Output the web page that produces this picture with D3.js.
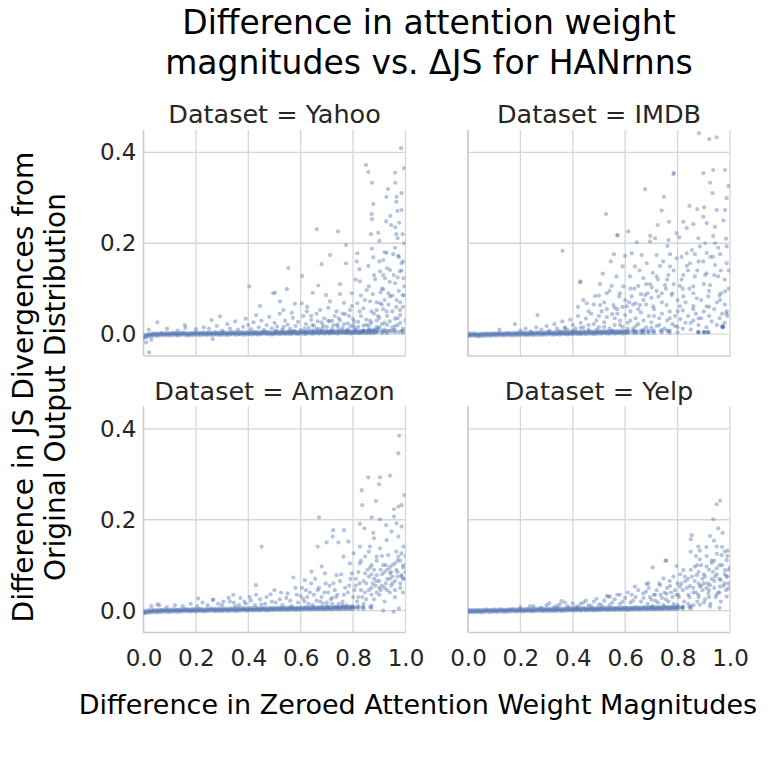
<!DOCTYPE html>
<html><head><meta charset="utf-8">
<script src="https://cdn.jsdelivr.net/npm/d3@7"></script>
<style>body{margin:0;background:#fff} svg text{font-family:"DejaVu Sans",sans-serif}</style>
</head><body>
<svg id="c" width="777" height="761"></svg>
<script>
const datasets = ["Yahoo","IMDB","Amazon","Yelp"];
const xTickValues = [0,0.2,0.4,0.6,0.8,1.0];
const yTickValues = [0,0.2,0.4];
const titleLines = ["Difference in attention weight","magnitudes vs. \u0394JS for HANrnns"];
const yLabelLines = ["Difference in JS Divergences from","Original Output Distribution"];
const xLabel = "Difference in Zeroed Attention Weight Magnitudes";

// x positions of the dense band near zero (read along the band)
const bandX = [0,.01,.02,.03,.04,.05,.06,.07,.08,.09,.1,.11,.12,.13,.14,.15,.16,.17,.18,.19,.2,.21,.22,.23,.24,.25,.26,.27,.28,.29,.3,.31,.32,.33,.34,.35,.36,.37,.38,.39,.4,.41,.42,.43,.44,.45,.46,.47,.48,.49,.5,.51,.52,.53,.54,.55,.56,.57,.58,.59,.6,.61,.62,.63,.64,.65,.66,.67,.68,.69,.7,.71,.72,.73,.74,.75,.76,.77,.78,.79,.8,.81,.82,.83,.84,.85,.86,.87,.88,.89,.9,.91,.92,.93,.94,.95,.96,.97,.98,.99,1];
const bandX2 = [.005,.015,.025,.035,.045,.055,.065,.075,.085,.095,.105,.115,.125,.135,.145,.155,.165,.175,.185,.195,.205,.215,.225,.235,.245,.255,.265,.275,.285,.295,.305,.315,.325,.335,.345,.355,.365,.375,.385,.395,.405,.415,.425,.435,.445,.455,.465,.475,.485,.495,.505,.515,.525,.535,.545,.555,.565,.575,.585,.595,.605,.615,.625,.635,.645,.655,.665,.675,.685,.695,.705,.715,.725,.735,.745,.755,.765,.775,.785,.795,.805,.815,.825,.835,.845,.855,.865,.875,.885,.895,.905,.915,.925,.935,.945,.955,.965,.975,.985,.995];

const yahooBandLo = [-.009,-.006,-.005,-.004,-.003,-.004,-.003,-.002,-.003,-.002,
-.003,-.002,-.002,-.003,-.002,-.001,-.002,-.003,-.002,-.002,
-.001,-.002,-.002,-.001,-.002,-.001,-.002,-.001,-.001,-.002,
-.001,-.001,-.002,-.001,0,-.001,-.001,0,-.001,-.001,
0,-.001,0,0,-.001,0,.001,0,0,-.001,
0,.001,0,.001,0,.001,0,.001,.001,0,
.001,.001,0,.002,.001,.001,.002,.001,.002,.001,
.002,.001,.002,.002,.001,.002,.003,.002,.002,.001,
.002,.003,.002,.002,.003,.002,.003,.002,.003,.004,
null,.003,null,.002,null,null,.004,null,null,.003,null];
const yahooBandHi = [-.003,-.001,0,.001,.002,.001,.002,.003,.002,.003,
.002,.003,.003,.002,.003,.004,.003,.002,.003,.003,
.004,.003,.003,.004,.003,.004,.003,.004,.004,.003,
.004,.004,.003,.004,.005,.004,.004,.005,.004,.004,
.005,.004,.005,.005,.004,.005,.006,.005,.005,.004,
.005,.006,.005,.006,.005,.006,.005,.006,.006,.005,
.006,.006,.005,.007,.006,.006,.007,.006,.007,.006,
.007,.006,.007,.007,.006,.007,.008,.007,.007,.006,
.007,.008,.007,.007,.008,.007,.008,.007,.008,.009,
null,.008,null,.007,null,null,.009,null,null,.008,null];
const yahooBandMid = [-.006,-.003,-.002,-.001,0,-.001,0,0,0,0,
0,.001,0,0,.001,.001,0,0,.001,.001,
.001,.001,.001,.001,.001,.001,.001,.002,.001,.001,
.002,.001,.001,.002,.002,.002,.001,.002,.002,.002,
.002,.002,.003,.002,.002,.003,.003,.003,.002,.002,
.003,.003,.003,.003,.003,.003,.003,.004,.003,.003,
.004,.003,.004,.004,.003,.004,.004,.004,.004,.004,
.004,.004,.005,.004,.004,.005,.005,.004,.005,.004,
.005,.005,.004,.005,.006,.005,.005,.006,.005,.006,
null,.005,null,null,.006,null,null,.005,null,null];
const yahooPoints = [[.983,.409],[.849,.372],[.858,.357],[.96,.355],[.994,.365],[.872,.333],[.961,.333],[.933,.319],[.927,.302],[.966,.302],[.965,.291],[.877,.286],[.969,.271],[.985,.273],[.871,.264],[.872,.253],[.942,.26],[.926,.248],[.976,.245],[.961,.235],[.661,.231],[.742,.226],[.868,.22],[.896,.223],[.989,.22],[.9,.205],[.773,.196],[.97,.211],[.816,.178],[.872,.188],[.928,.179],[.953,.176],[.972,.172],[.712,.174],[.877,.169],[.68,.154],[.773,.156],[.814,.16],[.858,.15],[.915,.163],[.985,.156],[.553,.146],[.606,.128],[.824,.143],[.903,.138],[.941,.141],[.979,.138],[.826,.116],[.75,.11],[.884,.121],[.922,.123],[.96,.112],[.992,.123],[.667,.107],[.502,.091],[.547,.099],[.646,.091],[.697,.086],[.75,.088],[.795,.09],[.852,.097],[.915,.099],[.989,.086],[.941,.083],[.521,.072],[.578,.067],[.604,.068],[.712,.072],[.765,.069],[.816,.068],[.865,.072],[.903,.068],[.966,.075],[.534,.053],[.566,.047],[.623,.05],[.674,.053],[.737,.05],[.788,.053],[.839,.057],[.89,.053],[.928,.05],[.979,.053],
[.404,.105],[.495,.09],[.445,.062],[.292,.039],[.26,.031],[.053,.026],[.158,.02],[.021,-.04],[.264,-.011],[.01,-.018],[.03,-.012],[.02,.01],[.09,.012],[.13,.008],[.16,.014],[.2,.011],[.23,.015],
[.25,.012],[.28,.018],[.3,.008],[.32,.022],[.33,.012],[.35,.028],[.36,.01],[.38,.016],[.39,.034],[.4,.02],[.41,.011],[.42,.026],[.43,.042],[.44,.015],[.45,.03],[.46,.009],[.47,.02],[.48,.038],[.49,.013],[.5,.025],[.51,.017],[.52,.045],[.53,.01],[.54,.03],[.55,.021],[.56,.012],[.57,.036],[.58,.018],[.59,.027],[.6,.009],[.61,.04],[.62,.022],[.63,.014],[.64,.031],[.65,.019],[.66,.045],[.67,.011],[.68,.026],[.69,.035],[.7,.016],[.71,.028],[.72,.012],[.73,.04],[.74,.021],[.75,.03],[.76,.014],[.77,.044],[.78,.024],[.79,.017],[.8,.033],[.81,.01],[.82,.027],[.83,.04],[.84,.019],[.85,.032],[.86,.012],[.87,.025],[.88,.045],[.89,.016],[.9,.036],[.91,.022],[.92,.01],[.93,.04],[.94,.028],[.95,.015],[.96,.034],[.97,.02],[.98,.042],[.99,.012],[1,.03],
[.505,.008],[.535,.016],[.575,.007],[.615,.012],[.645,.008],[.685,.014],[.715,.006],[.745,.011],[.775,.008],[.805,.015],[.835,.006],[.865,.009],[.895,.012],[.925,.006],[.955,.009],[.985,.007],[.625,.06],[.705,.058],[.795,.062],[.845,.075],[.935,.065],[.975,.095],[.905,.092],[.955,.13],[.995,.105],
[.81,.12],[.83,.085],[.86,.105],[.88,.13],[.89,.07],[.9,.16],[.91,.1],[.92,.075],[.93,.145],[.94,.115],[.95,.085],[.96,.19],[.97,.125],[.98,.07],[.99,.16],[.995,.2],[.945,.24],[.985,.31],[.965,.06],[.915,.055],[.875,.088],[.985,.14],[.92,.18],
[.85,.02],[.87,.05],[.89,.03],[.91,.065],[.93,.02],[.95,.05],[.97,.035],[.99,.06],[.995,.085],[.975,.17],[.965,.22],[.935,.09],[.915,.13],[.895,.04],[.865,.03],[.825,.05],[.805,.028],[.785,.04],[.765,.022],[.745,.035],[.725,.02],[.705,.03],[.685,.02],[.665,.028],[.645,.02],
[.62,.005],[.66,.012],[.7,.006],[.74,.018],[.78,.01],[.82,.016],[.84,.008],[.86,.02],[.88,.01],[.9,.015],[.92,.025],[.94,.008],[.96,.018],[.98,.025],[.72,.03],[.76,.045],[.8,.02],[.64,.04],[.68,.008],[.56,.006]];

const imdbBandLo = [-.004,-.004,-.003,-.004,-.005,-.004,-.004,-.003,-.004,-.003,
-.003,-.003,-.002,-.003,-.003,-.002,-.002,-.003,-.002,-.002,
-.002,-.001,-.002,-.002,-.001,-.002,-.001,-.001,-.002,-.001,
-.001,0,-.001,-.001,0,-.001,0,0,-.001,0,
0,.001,0,0,.001,0,.001,.001,0,.001,
.001,.001,.002,.001,.001,.002,.001,.002,.002,.001,
.002,.002,null,.003,.002,null,.003,.002,null,.003,
null,.003,null,null,.004,null,null,.003,null,null,
.004,null,null,null,null,null,null,null,null,null,
null,null,null,null,null,null,null,null,null,null,null];
const imdbBandHi = [.001,.001,.002,.001,0,.001,.001,.002,.001,.002,
.002,.002,.003,.002,.002,.003,.003,.002,.003,.003,
.003,.004,.003,.003,.004,.003,.004,.004,.003,.004,
.004,.005,.004,.004,.005,.004,.005,.005,.004,.005,
.005,.006,.005,.005,.006,.005,.006,.006,.005,.006,
.006,.006,.007,.006,.006,.007,.006,.007,.007,.006,
.007,.007,null,.008,.007,null,.008,.007,null,.008,
null,.008,null,null,.009,null,null,.008,null,null,
null,null,null,null,null,null,null,null,null,null,
null,null,null,null,null,null,null,null,null,null,null];
const imdbBandMid = [-.002,-.001,-.001,-.002,-.001,-.001,-.001,0,-.001,0,
0,0,0,0,.001,0,0,.001,0,.001,
.001,.001,0,.001,.001,.001,.002,.001,.001,.002,
.002,.002,.002,.001,.002,.002,.003,.002,.002,.003,
.003,.003,.003,.003,.004,.003,.004,.004,.003,.004,
.004,.004,.005,.004,.004,.005,.004,.005,.005,.005,
.005,.005,null,.006,.005,null,.006,null,.006,null,
.006,null,null,.007,null,null,.006,null,null,null,
null,null,null,null,null,null,null,null,null,null,
null,null,null,null,null,null,null,null,null,null];
const imdbPoints = [[.882,.442],[.921,.429],[.949,.433],[.786,.355],[.898,.354],[.936,.361],[.981,.361],[.924,.333],[.994,.326],[.676,.319],[.933,.31],[.748,.302],[.987,.299],[.845,.282],[.875,.275],[.901,.279],[.739,.272],[.527,.264],[.949,.273],[.981,.273],[.898,.258],[.767,.247],[.822,.247],[.86,.242],[.724,.24],[.911,.244],[.943,.236],[.835,.233],[.612,.226],[.796,.222],[.57,.218],[.695,.216],[.936,.216],[.714,.211],[.765,.207],[.807,.213],[.879,.211],[.644,.202],[.943,.2],[.987,.193],[.695,.204],[.761,.194],[.885,.193],[.625,.178],[.557,.176],[.599,.172],[.663,.174],[.72,.174],[.771,.176],[.835,.178],[.866,.176],[.911,.179],[.962,.176],[.545,.16],[.59,.149],[.637,.149],[.682,.156],[.733,.15],[.771,.149],[.796,.167],[.847,.156],[.898,.16],[.943,.152],[.987,.156],[.514,.133],[.567,.127],[.618,.127],[.669,.123],[.72,.127],[.765,.13],[.822,.13],[.866,.127],[.911,.134],[.955,.127],[.43,.116],[.504,.11],[.548,.106],[.593,.105],[.65,.106],[.701,.103],[.752,.108],[.809,.106],[.86,.105],[.924,.108],[.981,.094],[.485,.084],[.529,.09],[.577,.083],[.625,.083],[.676,.086],[.727,.083],[.777,.086],[.822,.083],[.873,.079],[.917,.083],[.962,.075],[.453,.068],[.504,.064],[.555,.064],[.606,.061],[.656,.064],[.707,.061],[.758,.064],[.809,.061],[.86,.062],[.911,.061],[.987,.05],[.987,.045],
[.879,.004],[.881,.004],[.878,.005],[.901,.004],[.903,.004],[.9,.005],[.916,.004],[.918,.004],[.915,.005],[.97,.016],[.972,.018],[.974,.016],[.972,.015],[.973,.017],
[.361,.183],[.427,.114],[.265,.042],[.179,.022],[.12,.01],[.571,.217],[.784,.352],
[.2,.008],[.22,.012],[.24,.006],[.26,.015],[.28,.01],[.3,.018],[.31,.008],[.33,.022],[.34,.012],[.36,.028],[.37,.015],[.38,.009],[.39,.032],[.4,.02],[.41,.012],[.42,.04],[.43,.025],[.44,.015],[.45,.034],[.46,.01],[.47,.045],[.48,.022],[.49,.03],[.5,.015],[.51,.05],[.52,.026],[.53,.038],[.54,.012],[.55,.044],[.56,.02],[.57,.055],[.58,.03],[.59,.016],[.6,.042],[.61,.025],[.62,.05],[.63,.012],[.64,.035],[.65,.022],[.66,.048],[.67,.03],[.68,.015],[.69,.04],[.7,.026],[.71,.055],[.72,.018],[.73,.035],[.74,.045],[.75,.012],[.76,.03],[.77,.05],[.78,.022],[.79,.04],[.8,.016],[.81,.033],[.82,.052],[.83,.025],[.84,.04],[.85,.01],[.86,.03],[.87,.045],[.88,.02],[.89,.035],[.9,.05],[.91,.015],[.92,.04],[.93,.028],[.94,.055],[.95,.02],[.96,.035],[.97,.045],[.98,.025],[.99,.04],
[.42,.06],[.44,.075],[.46,.05],[.48,.065],[.5,.085],[.52,.07],[.54,.095],[.56,.058],[.58,.09],[.6,.075],[.62,.1],[.64,.068],[.66,.088],[.68,.11],[.7,.08],[.72,.095],[.74,.07],[.76,.12],[.78,.09],[.8,.075],[.82,.1],[.84,.14],[.86,.09],[.88,.16],[.9,.11],[.92,.095],[.94,.13],[.96,.085],[.98,.12],[.995,.14],[.985,.21],[.975,.25],[.965,.09],[.955,.19],[.925,.17],[.905,.2],[.855,.185],[.835,.15],[.815,.17],[.785,.14],[.745,.16],[.705,.135],[.685,.09],[.655,.14],[.635,.1],[.615,.07],
[.5,.04],[.53,.055],[.56,.035],[.59,.06],[.62,.03],[.65,.055],[.68,.065],[.71,.04],[.74,.09],[.77,.035],[.8,.05],[.83,.07],[.86,.055],[.89,.075],[.92,.06],[.95,.07],[.98,.065],[.995,.1],[.965,.14],[.935,.17],[.905,.13],[.875,.14],[.845,.1],[.815,.12],[.785,.11],[.755,.1],[.725,.12],[.695,.11],
[.35,.006],[.37,.012],[.4,.008],[.43,.014],[.46,.02],[.49,.01],[.52,.016],[.55,.008],[.58,.02],[.61,.012],[.64,.018],[.67,.01],[.7,.014],[.73,.02],[.76,.008],[.79,.018],[.82,.012],[.85,.025],[.88,.035],[.63,.065],[.67,.075],[.57,.045]];

const amazonBandLo = [-.006,-.005,-.004,-.004,-.003,-.004,-.003,-.003,-.002,-.003,
-.003,-.002,-.002,-.003,-.002,-.002,-.001,-.002,-.002,-.001,
-.002,-.001,-.001,-.002,-.001,-.001,0,-.001,-.001,0,
-.001,0,-.001,0,0,-.001,0,0,.001,0,
0,.001,0,.001,0,.001,.001,0,.001,.001,
.001,.002,.001,.001,.002,.001,.002,.002,.001,.002,
.002,.002,.003,.002,.002,.003,.002,.003,.003,.002,
.003,.003,.002,.004,.003,.003,.004,.003,.004,.003,
.004,null,.005,null,.004,null,null,.006,null,null,
null,null,null,null,null,null,null,null,null,null,null];
const amazonBandHi = [-.001,0,.001,.001,.002,.001,.002,.002,.003,.002,
.002,.003,.003,.002,.003,.003,.004,.003,.003,.004,
.003,.004,.004,.003,.004,.004,.005,.004,.004,.005,
.004,.005,.004,.005,.005,.004,.005,.005,.006,.005,
.005,.006,.005,.006,.005,.006,.006,.005,.006,.006,
.006,.007,.006,.006,.007,.006,.007,.007,.006,.007,
.007,.007,.008,.007,.007,.008,.007,.008,.008,.007,
.008,.008,.007,.009,.008,.008,.009,.008,.009,.008,
.009,null,.01,null,.009,null,null,.011,null,null,
null,null,null,null,null,null,null,null,null,null,null];
const amazonBandMid = [-.004,-.003,-.002,-.001,-.001,-.001,0,0,0,0,
0,0,.001,0,.001,.001,.001,.001,.001,.001,
.001,.002,.001,.001,.002,.002,.002,.002,.001,.002,
.002,.002,.002,.002,.003,.002,.003,.003,.003,.003,
.003,.003,.003,.004,.003,.004,.004,.003,.004,.004,
.004,.004,.004,.005,.004,.005,.005,.004,.005,.005,
.005,.005,.006,.005,.005,.006,.005,.006,.006,.005,
.006,.006,.006,.007,.006,.006,.007,.006,.007,.007,
.007,.008,null,.007,null,null,.008,null,null,null,
null,null,null,null,null,null,null,null,null,null];
const amazonPoints = [[.976,.385],[.973,.346],[.858,.293],[.903,.293],[.941,.297],[.899,.278],[.833,.265],[.995,.254],[.835,.232],[.887,.241],[.973,.229],[.956,.223],[.985,.232],[.67,.205],[.871,.205],[.903,.201],[.956,.207],[.926,.188],[.966,.192],[.826,.191],[.985,.185],[.765,.177],[.843,.181],[.877,.171],[.947,.174],[.722,.163],[.88,.159],[.973,.163],[.699,.15],[.744,.15],[.782,.152],[.928,.155],[.665,.141],[.826,.141],[.864,.141],[.903,.137],[.992,.141],[.763,.119],[.802,.126],[.846,.119],[.89,.119],[.934,.122],[.973,.119],[.788,.104],[.826,.104],[.871,.1],[.915,.1],[.96,.104],[.992,.1],[.68,.097],[.572,.073],[.616,.067],[.641,.086],[.693,.082],[.737,.078],[.795,.082],[.846,.082],[.89,.078],[.941,.082],[.985,.078],[.985,.126],
[.451,.141],[.343,.035],[.429,.056],[.209,.027],[.266,.024],[.053,.014],[.724,.177],
[.3,.012],[.33,.02],[.35,.01],[.37,.028],[.39,.015],[.41,.022],[.43,.035],[.45,.014],[.47,.03],[.49,.02],[.5,.045],[.52,.025],[.53,.012],[.55,.038],[.56,.022],[.58,.05],[.59,.018],[.6,.032],[.61,.026],[.62,.045],[.63,.015],[.64,.06],[.65,.035],[.66,.022],[.67,.05],[.68,.03],[.69,.04],[.7,.018],[.71,.055],[.72,.028],[.73,.045],[.74,.035],[.75,.065],[.76,.02],[.77,.05],[.78,.04],[.79,.07],[.8,.03],[.81,.055],[.82,.085],[.83,.045],[.84,.065],[.85,.025],[.86,.075],[.87,.05],[.88,.09],[.89,.04],[.9,.065],[.91,.08],[.92,.05],[.93,.07],[.94,.095],[.95,.06],[.96,.045],[.97,.075],[.98,.11],[.99,.07],[1,.085],[.995,.07],[.985,.075],[.965,.09],[.945,.055],[.925,.1],[.905,.045],[.875,.06],[.855,.09],[.835,.03],[.815,.02],[.795,.01],[.775,.012],[.765,.035],[.745,.015],[.725,.06],[.705,.04],[.685,.015],[.665,.045],[.645,.012],[.625,.03],[.605,.05],[.585,.035],[.565,.01],[.545,.028],[.525,.04],[.505,.018],[.485,.036],[.465,.015],[.445,.025],[.425,.012],[.405,.03],[.385,.02],[.365,.012],[.345,.018],[.325,.028],[.305,.02],[.285,.015],[.265,.024],[.245,.012],[.225,.018],[.205,.01],[.18,.015],[.15,.01],[.12,.012],[.09,.008],[.06,.012],[.03,.01],[.915,0],[.955,-.002],[.975,.005],
[.81,.07],[.83,.11],[.85,.06],[.86,.13],[.87,.035],[.88,.07],[.89,.11],[.9,.05],[.91,.12],[.92,.085],[.93,.045],[.94,.07],[.95,.1],[.96,.065],[.97,.11],[.98,.05],[.99,.095],[1,.12],[.965,.13],[.945,.085],[.925,.06],[.905,.09],[.885,.055],[.865,.095],[.845,.04],[.825,.06],[.805,.045],[.785,.055],[.755,.08],[.735,.03],[.715,.025],[.695,.06],[.675,.02],[.655,.07],[.635,.04],[.615,.02],
[.82,.03],[.84,.015],[.86,.045],[.88,.025],[.9,.035],[.92,.02],[.94,.04],[.96,.03],[.98,.06],[.99,.04],[.97,.085],[.95,.075],[.93,.09],[.91,.055],[.89,.065],[.87,.08],[.7,.01],[.72,.015],[.74,.008],[.76,.012]];

const yelpBandLo = [-.004,-.003,-.004,-.003,-.003,-.004,-.003,-.002,-.003,-.003,
-.002,-.003,-.002,-.002,-.003,-.002,-.002,-.001,-.002,-.002,
-.001,-.002,-.001,-.001,-.002,-.001,-.001,0,-.001,-.001,
0,-.001,0,-.001,0,0,-.001,0,0,.001,
0,0,.001,0,.001,0,.001,.001,0,.001,
.001,.001,.002,.001,.001,.002,.001,.002,.001,.002,
.002,.001,.002,.002,.003,.002,.002,.003,.002,.003,
.003,.002,.003,.003,.002,.004,.003,.003,.004,.003,
.004,null,.004,null,null,.005,null,null,null,null,
null,null,null,null,null,null,null,null,null,null,null];
const yelpBandHi = [.001,.002,.001,.002,.002,.001,.002,.003,.002,.002,
.003,.002,.003,.003,.002,.003,.003,.004,.003,.003,
.004,.003,.004,.004,.003,.004,.004,.005,.004,.004,
.005,.004,.005,.004,.005,.005,.004,.005,.005,.006,
.005,.005,.006,.005,.006,.005,.006,.006,.005,.006,
.006,.006,.007,.006,.006,.007,.006,.007,.006,.007,
.007,.006,.007,.007,.008,.007,.007,.008,.007,.008,
.008,.007,.008,.008,.007,.009,.008,.008,.009,.008,
.009,null,.009,null,null,.01,null,null,null,null,
null,null,null,null,null,null,null,null,null,null,null];
const yelpBandMid = [-.001,-.001,-.001,-.001,-.001,-.001,0,0,0,0,
0,0,.001,0,0,.001,.001,.001,.001,.001,
.001,.001,.001,.002,.001,.002,.002,.002,.002,.002,
.002,.002,.002,.002,.003,.002,.002,.003,.003,.003,
.003,.003,.003,.003,.004,.003,.003,.004,.003,.004,
.004,.004,.004,.004,.004,.004,.004,.005,.004,.005,
.005,.004,.005,.005,.006,.005,.005,.006,.005,.006,
.006,.005,.006,.006,.005,.007,.006,.006,.007,.006,
.007,.007,null,null,.008,null,null,null,null,null,
null,null,null,null,null,null,null,null,null,null];
const yelpPoints = [[.962,.242],[.949,.234],[.936,.201],[.955,.181],[.972,.171],[.854,.166],[.85,.157],[.924,.164],[.939,.154],[.879,.141],[.949,.141],[.991,.132],[.85,.13],[.885,.132],[.968,.122],[.911,.12],[.754,.11],[.93,.11],[.885,.113],[.987,.111],[.822,.089],[.705,.095],[.796,.098],[.866,.097],[.911,.097],[.949,.093],[.981,.089],[.987,.075],[.746,.071],[.784,.075],[.828,.075],[.873,.078],[.905,.075],[.943,.075],[.964,.067],[.637,.053],[.682,.059],[.733,.056],[.771,.054],[.809,.053],[.847,.054],[.885,.053],[.924,.056],[.962,.053],[.994,.049],[.536,.031],[.58,.035],[.625,.035],[.669,.038],[.714,.035],[.758,.037],[.803,.035],[.841,.035],[.879,.035],[.917,.038],[.949,.035],[.987,.031],[.924,.009],[.96,.006],[.885,.013],
[.756,.11],[.688,.06],[.542,.031],[.357,.021],[.237,.01],
[.2,.008],[.25,.01],[.28,.007],[.3,.012],[.33,.008],[.35,.014],[.38,.01],[.4,.016],[.42,.009],[.44,.018],[.46,.012],[.48,.02],[.5,.014],[.52,.022],[.54,.012],[.56,.025],[.58,.015],[.6,.028],[.62,.018],[.64,.03],[.66,.02],[.68,.042],[.7,.024],[.72,.045],[.74,.028],[.76,.05],[.78,.03],[.8,.06],[.82,.045],[.84,.07],[.86,.05],[.88,.085],[.9,.06],[.92,.09],[.94,.065],[.96,.1],[.98,.08],[.99,.12],[1,.095],[.97,.14],[.95,.125],[.93,.105],[.91,.14],[.89,.1],[.87,.12],[.85,.09],[.83,.065],[.81,.08],[.79,.045],[.77,.065],[.75,.04],[.73,.06],[.71,.035],[.69,.05],[.67,.028],[.65,.045],[.63,.022],[.61,.04],[.59,.02],[.57,.035],[.55,.018],[.53,.032],[.51,.012],[.49,.026],[.47,.01],[.45,.022],[.43,.015],[.41,.008],[.37,.018],[.34,.01],[.31,.016],[.995,.06],[.985,.045],[.965,.02],[.945,.03],[.925,.015],[.905,.025],[.895,.045],[.875,.02],[.865,.065],[.845,.03],[.825,.02],[.805,.03],[.785,.015],[.765,.02],[.745,.012],[.725,.018],[.705,.01],[.685,.015],
[.86,.04],[.88,.06],[.9,.08],[.92,.045],[.94,.11],[.96,.07],[.98,.13],[.995,.09],[.975,.055],[.955,.04],[.935,.085],[.915,.06],[.895,.07],[.875,.1],[.855,.075],[.835,.05],[.815,.06],[.795,.035],[.775,.04],[.755,.025],[.735,.035],[.715,.022],[.695,.03],
[.8,.012],[.82,.008],[.84,.015],[.86,.012],[.88,.03],[.9,.018],[.92,.03],[.94,.05],[.96,.04],[.98,.06],[.99,.075],[.97,.1],[.95,.08],[.93,.07],[.91,.05],[.89,.055],[.87,.04]];

const panels = [
  {name:datasets[0], col:0, row:0, lo:yahooBandLo, hi:yahooBandHi, mid:yahooBandMid, pts:yahooPoints},
  {name:datasets[1], col:1, row:0, lo:imdbBandLo, hi:imdbBandHi, mid:imdbBandMid, pts:imdbPoints},
  {name:datasets[2], col:0, row:1, lo:amazonBandLo, hi:amazonBandHi, mid:amazonBandMid, pts:amazonPoints},
  {name:datasets[3], col:1, row:1, lo:yelpBandLo, hi:yelpBandHi, mid:yelpBandMid, pts:yelpPoints}
];

const svg = d3.select("#c");
const colRange = [[143.5,405.5],[468,730]];
const rowRange = [[356,130],[632.5,406.5]];
const yDomain = [-0.048, 0.449];
const gridColor = "#d6d6d6";
const textColor = "#262626";

panels.forEach((p,i)=>{
  const x = d3.scaleLinear().domain([0,1]).range(colRange[p.col]);
  const y = d3.scaleLinear().domain(yDomain).range(rowRange[p.row]);
  const g = svg.append("g");
  const [x0,x1] = x.range(), [yb,yt] = y.range();
  g.append("clipPath").attr("id","clip"+i).append("rect")
    .attr("x",x0).attr("y",yt).attr("width",x1-x0).attr("height",yb-yt);
  g.selectAll(".gx").data(xTickValues).join("line").attr("class","gx")
    .attr("x1",d=>x(d)).attr("x2",d=>x(d)).attr("y1",yb).attr("y2",yt)
    .attr("stroke",gridColor).attr("stroke-width",1.3);
  g.selectAll(".gy").data(yTickValues).join("line").attr("class","gy")
    .attr("y1",d=>y(d)).attr("y2",d=>y(d)).attr("x1",x0).attr("x2",x1)
    .attr("stroke",gridColor).attr("stroke-width",1.3);
  g.append("line").attr("x1",x0).attr("x2",x0).attr("y1",yb).attr("y2",yt).attr("stroke","#cccccc").attr("stroke-width",1.5);
  g.append("line").attr("x1",x0).attr("x2",x1).attr("y1",yb).attr("y2",yb).attr("stroke","#cccccc").attr("stroke-width",1.5);

  const pts = [];
  bandX.forEach((bx,j)=>{
    if(p.lo[j]!=null) pts.push([bx,p.lo[j]]);
    if(p.hi[j]!=null) pts.push([bx,p.hi[j]]);
  });
  bandX2.forEach((bx,j)=>{ if(p.mid[j]!=null) pts.push([bx,p.mid[j]]); });
  p.pts.forEach(d=>pts.push(d));
  g.append("g").attr("clip-path",`url(#clip${i})`).selectAll("circle").data(pts).join("circle")
    .attr("cx",d=>x(d[0])).attr("cy",d=>y(d[1])).attr("r",2.1)
    .attr("fill","#4c72b0").attr("fill-opacity",0.42);

  if(p.col===0){
    const ax = g.append("g").attr("transform",`translate(${x0},0)`)
      .call(d3.axisLeft(y).tickValues(yTickValues).tickFormat(d3.format(".1f")).tickSize(0).tickPadding(7));
    ax.select(".domain").remove();
    ax.attr("font-family",null).attr("font-size",null);
    ax.selectAll("text").attr("font-size",23).attr("fill",textColor);
  }
  if(p.row===1){
    const ax = g.append("g").attr("transform",`translate(0,${yb})`)
      .call(d3.axisBottom(x).tickValues(xTickValues).tickFormat(d3.format(".1f")).tickSize(0).tickPadding(17));
    ax.select(".domain").remove();
    ax.attr("font-family",null).attr("font-size",null);
    ax.selectAll("text").attr("font-size",23).attr("fill",textColor);
  }
  g.append("text").attr("x",(x0+x1)/2).attr("y",yt-7).attr("text-anchor","middle")
    .attr("font-size",25.5).attr("fill",textColor).text("Dataset = "+p.name);
});

svg.selectAll(".title").data(titleLines).join("text").attr("class","title")
  .attr("x",429).attr("y",(d,i)=>34+i*40).attr("text-anchor","middle")
  .attr("font-size",33).attr("fill","#000").text(d=>d);

svg.selectAll(".ylab").data(yLabelLines).join("text").attr("class","ylab")
  .attr("transform",(d,i)=>`translate(${33+i*32},387) rotate(-90)`).attr("text-anchor","middle")
  .attr("font-size",28).attr("fill","#000").text(d=>d);

svg.append("text").attr("x",418).attr("y",714).attr("text-anchor","middle")
  .attr("font-size",27).attr("fill","#000").text(xLabel);
</script>
</body></html>
